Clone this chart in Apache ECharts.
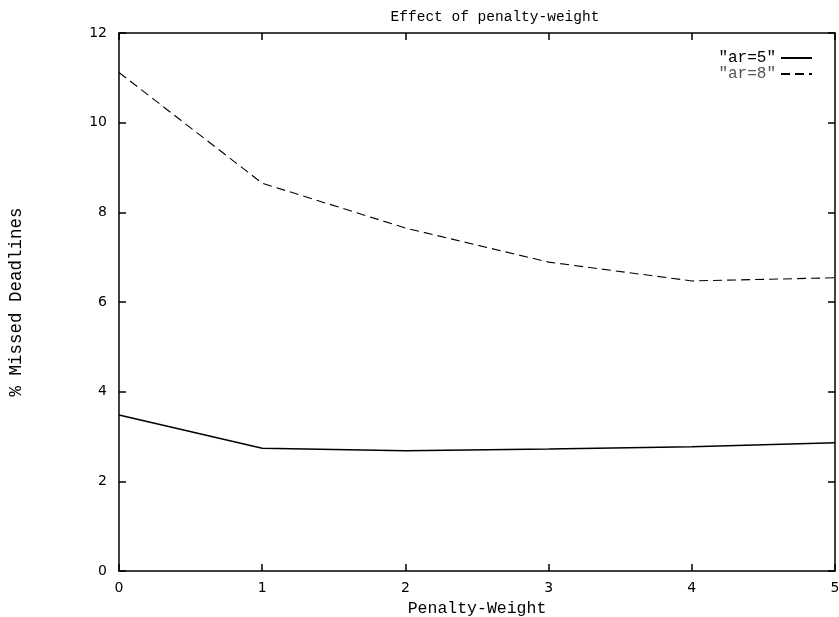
<!DOCTYPE html>
<html>
<head>
<meta charset="utf-8">
<script src="https://cdn.jsdelivr.net/npm/echarts@6/dist/echarts.min.js"></script>
<style>
html,body{margin:0;padding:0;background:#fff;}
#chart{width:839px;height:617px;}
</style>
</head>
<body>
<div id="chart"></div>
<script>
const categories = [0, 1, 2, 3, 4, 5];
const ar5 = [3.48, 2.74, 2.68, 2.72, 2.77, 2.86];
const ar8 = [11.12, 8.65, 7.65, 6.89, 6.47, 6.54];
const xTicks = [0, 1, 2, 3, 4, 5];
const yTicks = [0, 2, 4, 6, 8, 10, 12];

const mono = 'Liberation Mono';
const sans = 'DejaVu Sans';

const chart = echarts.init(document.getElementById('chart'));
const axisBase = {
  axisLine: {show: true, onZero: false, lineStyle: {color: '#000', width: 1.5}},
  axisTick: {show: true, inside: true, length: 7, lineStyle: {color: '#000', width: 1.5}},
  splitLine: {show: false}
};
chart.setOption({
  animation: false,
  backgroundColor: '#fff',
  title: {
    text: 'Effect of penalty-weight',
    left: 490, top: 5, textAlign: 'center',
    textStyle: {fontFamily: mono, fontSize: 14.5, fontWeight: 'normal', color: '#000'}
  },
  legend: {
    right: 21, top: 45, orient: 'vertical', align: 'right',
    itemWidth: 31, itemHeight: 14, itemGap: 0,
    itemStyle: {opacity: 0},
    textStyle: {fontFamily: mono, fontSize: 16, lineHeight: 14, color: '#000'},
    data: [
      {name: '"ar=5"'},
      {name: '"ar=8"', textStyle: {color: '#555'}}
    ]
  },
  grid: {left: 119, right: 4, top: 33, bottom: 46, outerBoundsMode: 'none'},
  xAxis: [
    Object.assign({}, axisBase, {
      type: 'value', min: 0, max: 5, interval: 1, position: 'bottom',
      name: 'Penalty-Weight', nameLocation: 'middle', nameGap: 24,
      nameTextStyle: {fontFamily: mono, fontSize: 16.5, color: '#000'},
      axisLabel: {fontFamily: sans, fontSize: 14, color: '#000', margin: 10,
        formatter: v => xTicks.includes(v) ? String(v) : ''}
    }),
    Object.assign({}, axisBase, {
      type: 'value', min: 0, max: 5, interval: 1, position: 'top',
      axisLabel: {show: false}
    })
  ],
  yAxis: [
    Object.assign({}, axisBase, {
      type: 'value', min: 0, max: 12, interval: 2, position: 'left',
      name: '% Missed Deadlines', nameLocation: 'middle', nameGap: 94, nameRotate: 90,
      nameTextStyle: {fontFamily: mono, fontSize: 17.5, color: '#000'},
      axisLabel: {fontFamily: sans, fontSize: 14, color: '#000', margin: 12,
        formatter: v => yTicks.includes(v) ? String(v) : ''}
    }),
    Object.assign({}, axisBase, {
      type: 'value', min: 0, max: 12, interval: 2, position: 'right',
      axisLabel: {show: false}
    })
  ],
  series: [
    {
      name: '"ar=5"', type: 'line', xAxisIndex: 0, yAxisIndex: 0,
      data: categories.map((c, i) => [c, ar5[i]]),
      showSymbol: false, symbol: 'none',
      lineStyle: {color: '#000', width: 1.5, type: 'solid'},
      itemStyle: {color: '#000'}
    },
    {
      name: '"ar=8"', type: 'line', xAxisIndex: 0, yAxisIndex: 0,
      data: categories.map((c, i) => [c, ar8[i]]),
      showSymbol: false, symbol: 'none',
      lineStyle: {color: '#000', width: 1.1, type: [9, 5]},
      itemStyle: {color: '#000'}
    }
  ]
});
</script>
</body>
</html>
